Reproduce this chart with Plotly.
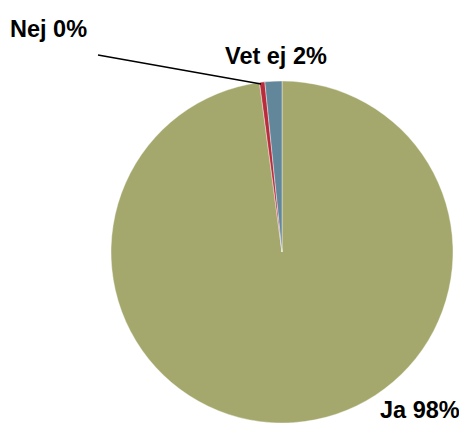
import plotly.graph_objects as go

labels = ["Ja", "Nej", "Vet ej"]
values = [97.9, 0.5, 1.6]
colors = ["#A4A86C", "#BA2C3C", "#62869A"]

W, H = 459, 423


def fx(px):
    return px / W


def fy(py):
    return 1 - py / H


fig = go.Figure(
    go.Pie(
        labels=labels,
        values=values,
        sort=False,
        direction="clockwise",
        rotation=0,
        domain=dict(x=[fx(111), fx(453)], y=[fy(423), fy(81)]),
        marker=dict(colors=colors, line=dict(color="white", width=0.4)),
        textinfo="none",
        hoverinfo="label+percent",
        showlegend=False,
    )
)

# label positions in window pixels
label_pos = {"Nej": (48, 29), "Vet ej": (276, 56), "Ja": (420, 410)}
for lab, val in zip(labels, values):
    px, py = label_pos[lab]
    fig.add_annotation(
        x=fx(px),
        y=fy(py),
        xref="paper",
        yref="paper",
        text=f"<b>{lab} {int(val + 0.49):.0f}%</b>",
        showarrow=False,
        font=dict(family="Liberation Sans, Arial", size=23.5, color="black"),
        xanchor="center",
        yanchor="middle",
    )

# leader line for the small "Nej" slice
fig.add_shape(
    type="line",
    xref="paper",
    yref="paper",
    x0=fx(98),
    y0=fy(55),
    x1=fx(261),
    y1=fy(84),
    line=dict(color="black", width=1.5),
)

fig.update_layout(
    width=W,
    height=H,
    margin=dict(l=0, r=0, t=0, b=0),
    paper_bgcolor="white",
    plot_bgcolor="white",
)

# drop the default page margin so the figure fills the window exactly
fig.write_html(
    "out.html",
    config={"displayModeBar": False},
    post_script="document.body.style.margin='0';",
)
